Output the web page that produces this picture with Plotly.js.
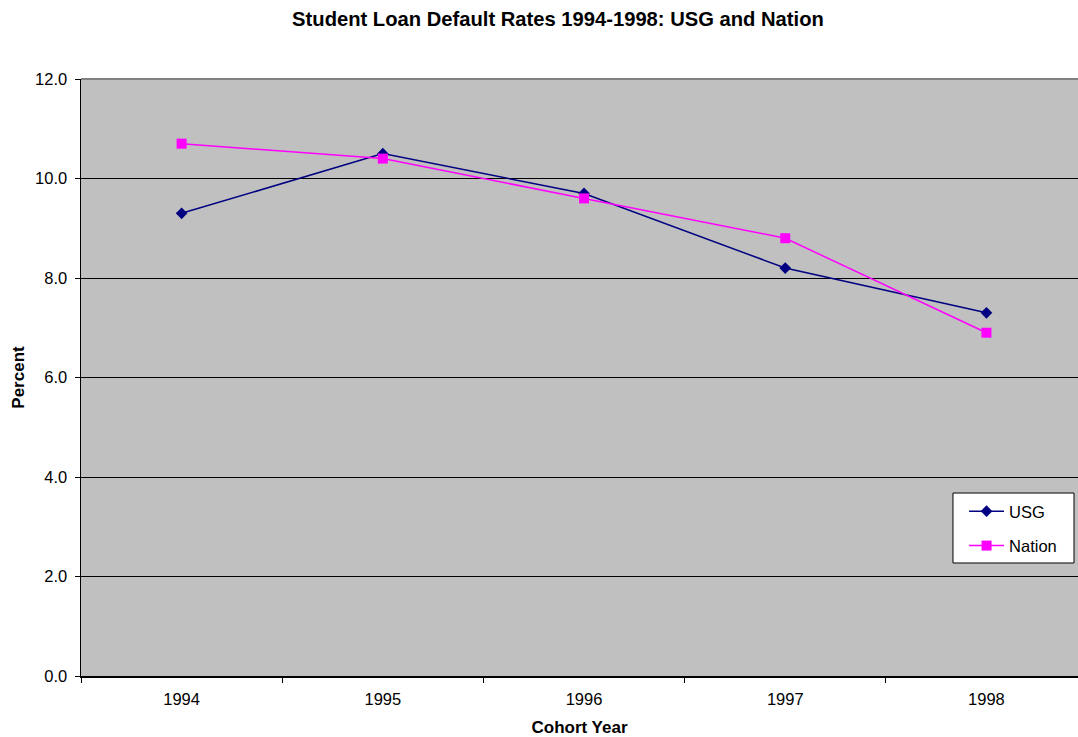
<!DOCTYPE html>
<html>
<head>
<meta charset="utf-8">
<script src="https://cdn.plot.ly/plotly-3.0.1.min.js"></script>
<style>html,body{margin:0;padding:0;background:#fff;}#chart{width:1078px;height:737px;}</style>
</head>
<body>
<div id="chart"></div>
<script>
const years = ["1994", "1995", "1996", "1997", "1998"];
const usg = [9.3, 10.5, 9.7, 8.2, 7.3];
const nation = [10.7, 10.4, 9.6, 8.8, 6.9];
const yTicks = [0, 2, 4, 6, 8, 10, 12];

const traces = [
  {
    x: years, y: usg, name: "USG", type: "scatter", mode: "lines+markers",
    legendgroup: "a",
    line: {color: "#000080", width: 1.5},
    marker: {symbol: "diamond", size: 9, color: "#000080"}
  },
  {
    x: years, y: nation, name: "Nation", type: "scatter", mode: "lines+markers",
    legendgroup: "b",
    line: {color: "#FF00FF", width: 1.5},
    marker: {symbol: "square", size: 10, color: "#FF00FF"}
  }
];

const layout = {
  width: 1078, height: 737,
  margin: {l: 81, r: 0, t: 79, b: 61},
  paper_bgcolor: "#ffffff",
  plot_bgcolor: "#C0C0C0",
  font: {family: "Arial, Liberation Sans, sans-serif", size: 16, color: "#000"},
  title: {
    text: "<b>Student Loan Default Rates 1994-1998: USG and Nation</b>",
    font: {size: 20.2}, x: 0.5176, xanchor: "center", y: 0.974, yanchor: "middle"
  },
  xaxis: {
    type: "category",
    range: [-0.5, 4.455],
    tickson: "boundaries",
    ticks: "outside", ticklen: 5, tickcolor: "#000", tickwidth: 1,
    ticklabelstandoff: 8,
    showgrid: false,
    showline: true, linecolor: "#000", linewidth: 1.5,
    zeroline: false,
    title: {text: "<b>Cohort Year</b>", font: {size: 17}, standoff: 15},
    tickfont: {size: 16.5},
    fixedrange: true
  },
  yaxis: {
    range: [0, 12],
    tickvals: yTicks,
    tickformat: ".1f",
    ticks: "outside", ticklen: 5, tickcolor: "#000", tickwidth: 1,
    ticklabelstandoff: 4,
    showgrid: true, gridcolor: "#000", gridwidth: 1,
    showline: true, linecolor: "#000", linewidth: 1.5,
    zeroline: false,
    title: {text: "<b>Percent</b>", font: {size: 17}, standoff: 6},
    tickfont: {size: 16.5},
    fixedrange: true
  },
  shapes: [
    {type: "line", xref: "paper", yref: "paper", x0: 0, x1: 1, y0: 1, y1: 1,
     line: {color: "#808080", width: 2}},
    {type: "rect", xref: "paper", yref: "paper", x0: 0.8746, x1: 0.996, y0: 0.1893, y1: 0.3065,
     fillcolor: "#ffffff", line: {color: "#000", width: 1}, layer: "above"}
  ],
  legend: {
    x: 0.8857, y: 0.305, xanchor: "left", yanchor: "top",
    bgcolor: "rgba(0,0,0,0)", borderwidth: 0,
    font: {size: 16.5}, tracegroupgap: 10, itemwidth: 35,
    traceorder: "grouped"
  },
  showlegend: true
};

Plotly.newPlot("chart", traces, layout, {displayModeBar: false, staticPlot: true});
</script>
</body>
</html>
